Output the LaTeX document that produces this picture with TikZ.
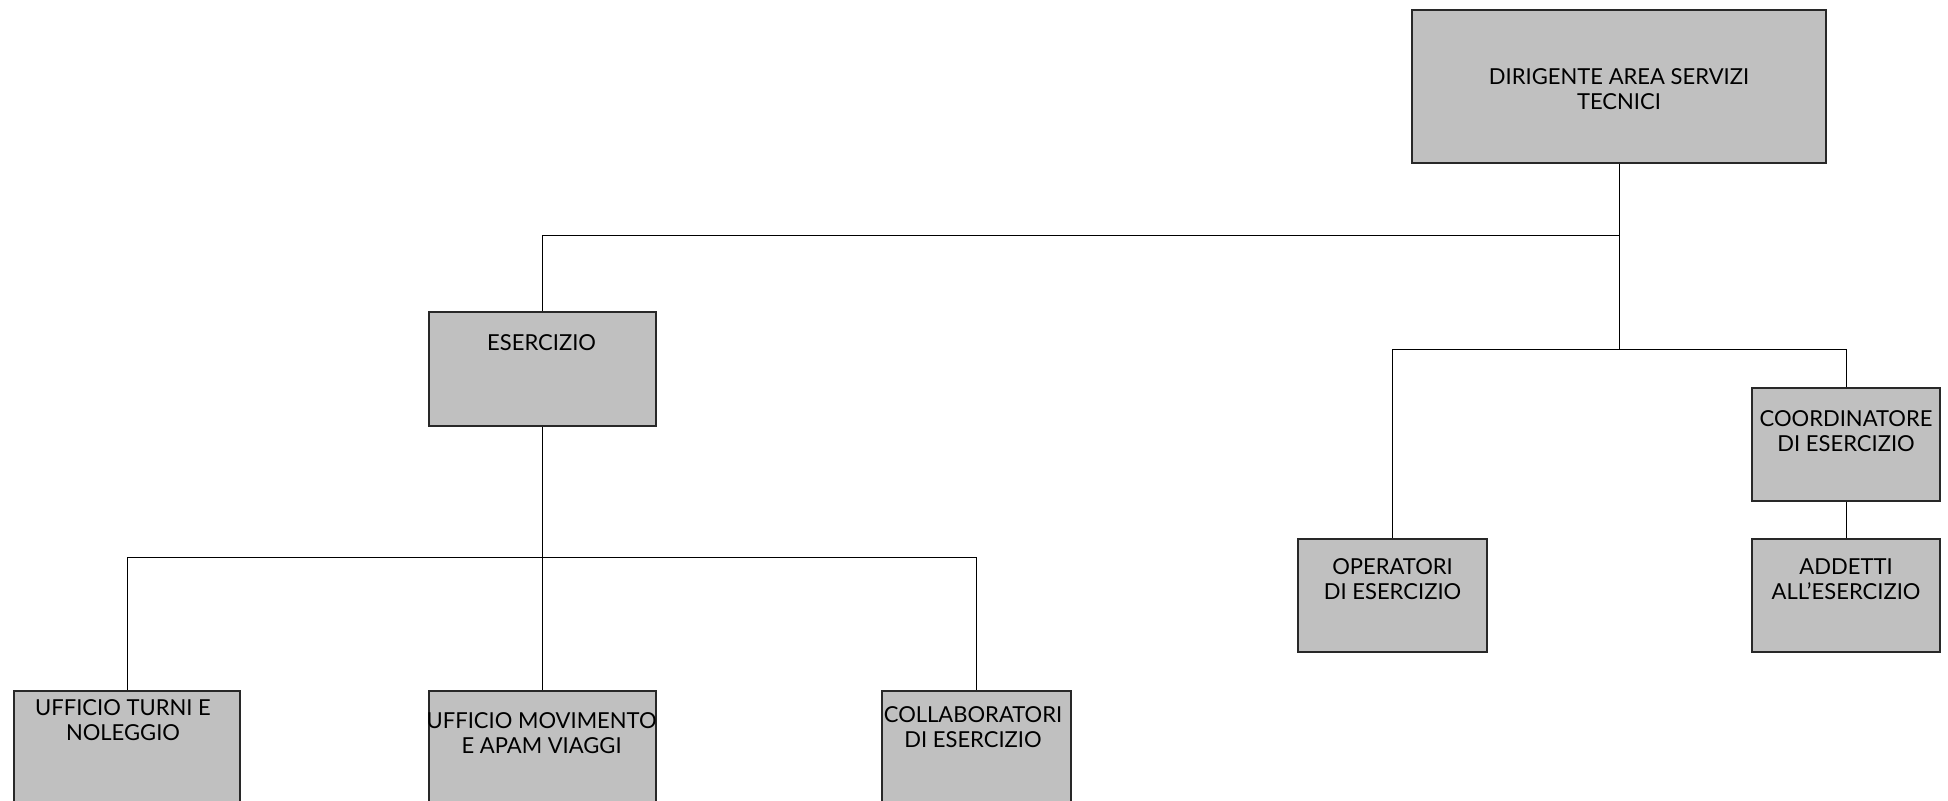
\documentclass[tikz,border=0pt]{standalone}
\usepackage{fontspec}
\setmainfont{Lato}
\usepackage{tikz}

\begin{document}
\begin{tikzpicture}[x=0.5pt,y=0.5pt,yscale=-1,xscale=1,
  box/.style={draw={rgb,255:red,40;green,40;blue,40},line width=0.6pt,fill={rgb,255:red,192;green,192;blue,192},inner sep=0pt},
  lbl/.style={inner sep=0pt,align=center,font=\fontsize{11}{12.4}\selectfont},
  wire/.style={draw=black,line width=0.5pt}]
%set diagram left start at 0, and has height of 801
\useasboundingbox (0,0) rectangle (1948,801);
\clip (0,0) rectangle (1948,801);

%Shape: Rectangle [id:dir]
\node [box,minimum width=207pt,minimum height=76.5pt] (dir) at (1619,86.5) {};
%Shape: Rectangle [id:ese]
\node [box,minimum width=113.5pt,minimum height=57pt] (ese) at (542.5,369) {};
%Shape: Rectangle [id:tur]
\node [box,minimum width=113pt,minimum height=56.5pt] (tur) at (127,747.5) {};
%Shape: Rectangle [id:mov]
\node [box,minimum width=113.5pt,minimum height=56.5pt] (mov) at (542.5,747.5) {};
%Shape: Rectangle [id:col]
\node [box,minimum width=94.5pt,minimum height=56.5pt] (col) at (976.5,747.5) {};
%Shape: Rectangle [id:ope]
\node [box,minimum width=94.5pt,minimum height=56.5pt] (ope) at (1392.5,595.5) {};
%Shape: Rectangle [id:coo]
\node [box,minimum width=94pt,minimum height=56.5pt] (coo) at (1846,444.5) {};
%Shape: Rectangle [id:add]
\node [box,minimum width=94pt,minimum height=56.5pt] (add) at (1846,595.5) {};

%Junctions
\coordinate (jtop) at (1619,236);
\coordinate (jright) at (1619,350);
\coordinate (jleft) at (542.5,558);

%Straight Lines
\draw [wire] (dir.south) -- (jright);
\draw [wire] (jtop) -| (ese.north);
\draw [wire] (jright) -| (ope.north);
\draw [wire] (jright) -| (coo.north);
\draw [wire] (coo.south) -- (add.north);
%Straight Lines
\draw [wire] (ese.south) -- (mov.north);
\draw [wire] (jleft) -| (tur.north);
\draw [wire] (jleft) -| (col.north);

% Text Node
\node [lbl] (tdir) at (1619,89.5) {DIRIGENTE AREA SERVIZI\\TECNICI};
% Text Node
\node [lbl] (tese) at (541.6,343) {ESERCIZIO};
% Text Node
\node [lbl] (ttur) at (123,720.5) {UFFICIO TURNI E\\NOLEGGIO};
% Text Node
\node [lbl] (tmov) at (541.6,733.5) {UFFICIO MOVIMENTO\\E APAM VIAGGI};
% Text Node
\node [lbl] (tcol) at (973,727) {COLLABORATORI\\DI ESERCIZIO};
% Text Node
\node [lbl] (tope) at (1392.5,579) {OPERATORI\\DI ESERCIZIO};
% Text Node
\node [lbl] (tcoo) at (1846,431) {COORDINATORE\\DI ESERCIZIO};
% Text Node
\node [lbl] (tadd) at (1846,579) {ADDETTI\\ALL'ESERCIZIO};

\end{tikzpicture}
\end{document}
